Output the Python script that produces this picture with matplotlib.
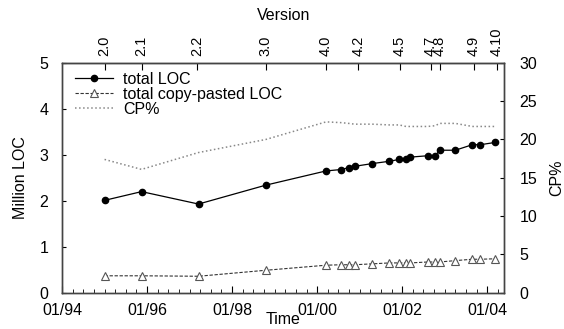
import numpy as np
import matplotlib
matplotlib.use("Agg")
import matplotlib.pyplot as plt

plt.rcParams['font.family'] = ['Liberation Sans', 'DejaVu Sans']

# release dates as decimal years
release_time = [1995.00, 1995.87, 1997.21, 1998.79, 2000.21, 2000.56, 2000.74, 2000.88,
                2001.30, 2001.70, 2001.93, 2002.09, 2002.19, 2002.60, 2002.78, 2002.88,
                2003.25, 2003.65, 2003.84, 2004.19]
total_loc = [2.01, 2.20, 1.93, 2.34, 2.65, 2.68, 2.72, 2.75,
             2.81, 2.86, 2.90, 2.90, 2.95, 2.98, 2.98, 3.10,
             3.10, 3.22, 3.22, 3.27]
copy_loc = [0.37, 0.37, 0.36, 0.49, 0.60, 0.61, 0.61, 0.61,
            0.63, 0.65, 0.65, 0.65, 0.65, 0.67, 0.67, 0.67,
            0.70, 0.73, 0.73, 0.74]
cp_pct = [17.4, 16.1, 18.3, 20.0, 22.3, 22.2, 22.1, 22.0,
          22.0, 21.9, 21.9, 21.7, 21.7, 21.7, 21.8, 22.1,
          22.1, 21.7, 21.7, 21.7]

version_time = [1995.00, 1995.87, 1997.17, 1998.79, 2000.21, 2000.97,
                2001.94, 2002.68, 2002.88, 2003.68, 2004.23]
version_names = ["2.0", "2.1", "2.2", "3.0", "4.0", "4.2",
                 "4.5", "4.7", "4.8", "4.9", "4.10"]

time_ticks = [1994, 1996, 1998, 2000, 2002, 2004]
time_labels = ["01/94", "01/96", "01/98", "01/00", "01/02", "01/04"]

fs = 11.5

fig = plt.figure(figsize=(5.64, 3.29), dpi=100)
ax = fig.add_axes([0.110, 0.110, 0.784, 0.699])
ax2 = ax.twinx()

l1, = ax.plot(release_time, total_loc, '-', color='black', lw=0.9,
              marker='o', ms=4.5, label='total LOC')
l2, = ax.plot(release_time, copy_loc, '--', color='#333333', lw=0.8,
              marker='^', ms=6, mfc='white', mec='#555555', mew=0.8,
              dashes=(3, 1.5), label='total copy-pasted LOC')
l3, = ax2.plot(release_time, cp_pct, ':', color='#888888', lw=1.1, label='CP%')

ax.set_xlim(1994.0, 2004.4)
ax.set_ylim(0, 5)
ax2.set_ylim(0, 30)

ax.set_xticks(time_ticks)
ax.set_xticklabels(time_labels, fontsize=fs)
ax.set_xticks(np.arange(1994, 2004.4, 0.25), minor=True)
ax.set_yticks(range(0, 6))
ax.tick_params(axis='y', labelsize=fs, direction='in', length=3, pad=10)
ax.tick_params(axis='x', which='major', direction='in', length=5, pad=7)
ax.tick_params(axis='x', which='minor', direction='in', length=3)
ax2.set_yticks(range(0, 31, 5))
ax2.tick_params(axis='y', labelsize=fs, direction='in', length=3, pad=11)

top = ax.secondary_xaxis('top')
top.set_xticks(version_time)
top.set_xticklabels(version_names, rotation=90, fontsize=10.5)
top.tick_params(direction='in', length=5, pad=5)
top.set_xlabel('Version', fontsize=fs, labelpad=5)

ax.set_xlabel('Time', fontsize=fs, labelpad=-4)
ax.set_ylabel('Million LOC', fontsize=fs, labelpad=8)
ax2.set_ylabel('CP%', fontsize=fs, labelpad=9)

for a in (ax, ax2):
    for s in a.spines.values():
        s.set_color('#444444')
        s.set_linewidth(1.0)

ax2.legend(handles=[l1, l2, l3], loc='upper left', frameon=False,
           fontsize=fs, handlelength=2.4, labelspacing=0.0,
           borderaxespad=0.0, bbox_to_anchor=(0.015, 0.99), handletextpad=0.6)

fig.savefig('out.png', dpi=100)
